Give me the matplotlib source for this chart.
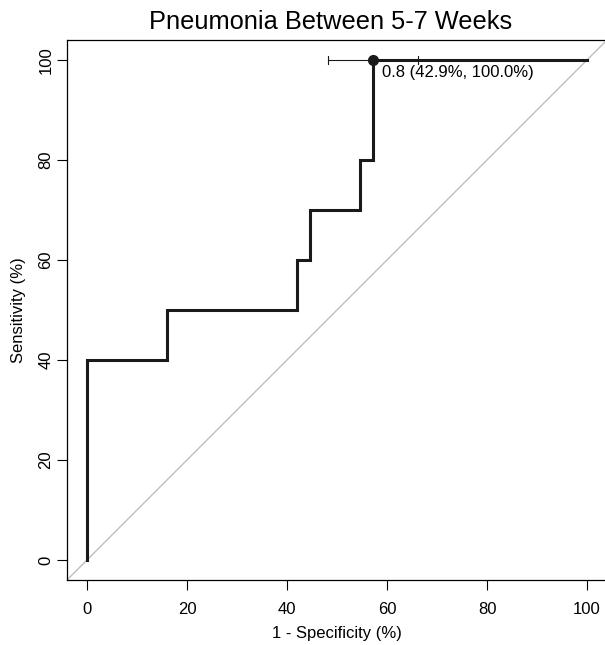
import matplotlib
matplotlib.use("Agg")
import matplotlib.pyplot as plt

# ROC curve steps (1 - specificity %, sensitivity %)
fpr = [0, 0, 16, 16, 42, 42, 44.6, 44.6, 54.6, 54.6, 57.1, 57.1, 100]
tpr = [0, 40, 40, 50, 50, 60, 60, 70, 70, 80, 80, 100, 100]

# best threshold and its CI on specificity
thr_label = "0.8 (42.9%, 100.0%)"
thr_x = 57.1
thr_y = 100
ci_low = 48.2
ci_high = 66.2

title = "Pneumonia Between 5-7 Weeks"
xticks = [0, 20, 40, 60, 80, 100]
yticks = [0, 20, 40, 60, 80, 100]

plt.rcParams["font.family"] = ["Liberation Sans", "DejaVu Sans"]

fig = plt.figure(figsize=(6.05, 6.45), dpi=100)
ax = fig.add_axes([67 / 605, 65 / 645, 540 / 605, 540 / 645])

ax.plot([-4, 104], [-4, 104], color="#bebebe", lw=1.0)
ax.plot(fpr, tpr, color="#1a1a1a", lw=2.2, solid_joinstyle="miter")

ax.plot([ci_low, ci_high], [thr_y, thr_y], color="#1a1a1a", lw=0.8)
for cx in [ci_low, ci_high]:
    ax.plot([cx, cx], [thr_y - 0.8, thr_y + 0.8], color="#1a1a1a", lw=0.8)
ax.plot(thr_x, thr_y, "o", color="#1a1a1a", ms=7)
ax.text(thr_x + 1.8, thr_y - 2.6, thr_label, fontsize=12, ha="left", va="center")

ax.set_xlim(-4, 104)
ax.set_ylim(-4, 104)
ax.set_xticks(xticks)
ax.set_yticks(yticks)
ax.tick_params(labelsize=12, length=7.2, width=0.8)
ax.tick_params(axis="x", pad=9)
ax.tick_params(axis="y", pad=2.5)
for lab in ax.get_yticklabels():
    lab.set_rotation(90)
    lab.set_va("center")
for s in ax.spines.values():
    s.set_linewidth(0.9)

ax.set_xlabel("1 - Specificity (%)", fontsize=12)
ax.set_ylabel("Sensitivity (%)", fontsize=12)
ax.xaxis.set_label_coords(0.5, -46 / 540)
ax.yaxis.set_label_coords(-41 / 540, 0.5)
ax.set_title(title, fontsize=18.3, x=(331 - 67) / 540, pad=8)

fig.savefig("out.png", dpi=100)
